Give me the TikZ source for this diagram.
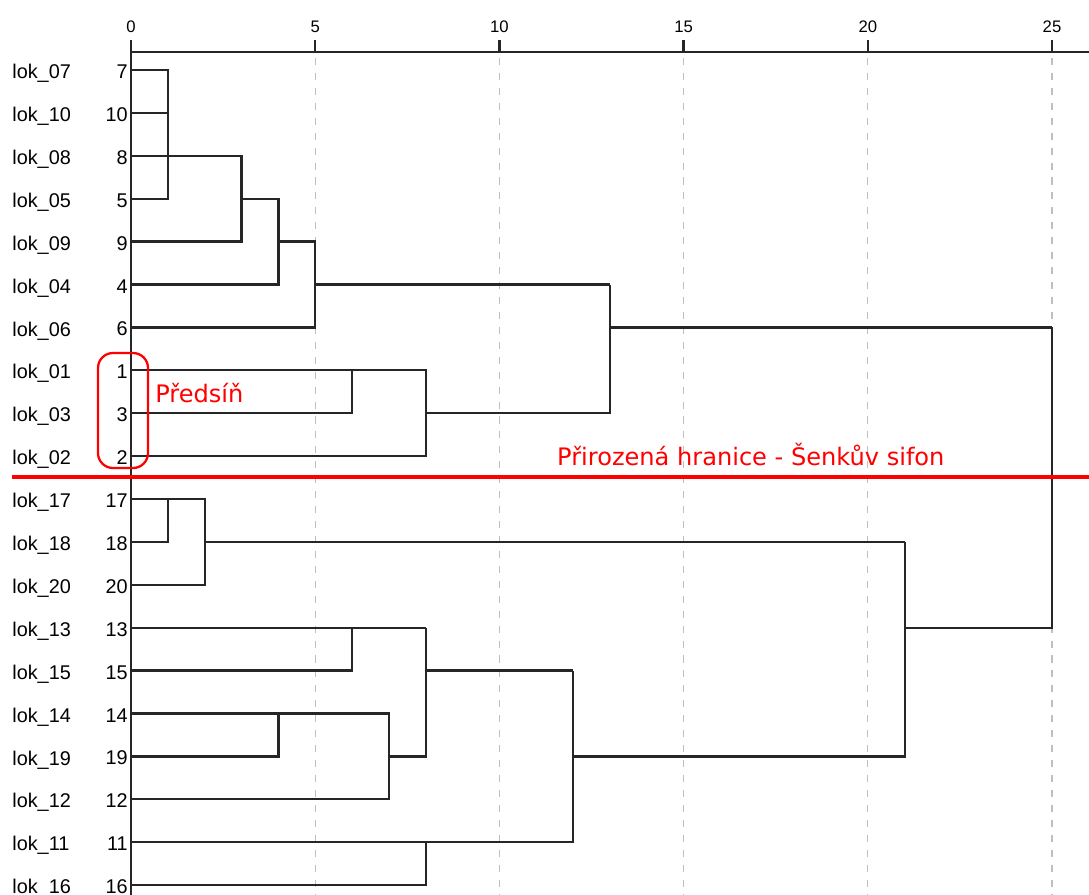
\documentclass[tikz,border=0pt]{standalone}
\usepackage{fontspec}
\setmainfont{Liberation Sans}
\newfontfamily\notefont{DejaVu Sans}
\usetikzlibrary{positioning}

\begin{document}
\begin{tikzpicture}[
        x=0.7368cm, y=-0.858cm,
        every node/.style={font=\fontsize{11.3}{13}\selectfont, inner sep=0pt},
        link/.style={line width=1.3pt, draw=black!85},
        axisline/.style={line width=1.4pt, draw=black!85},
        gridline/.style={line width=0.7pt, draw=black!25, dash pattern=on 4pt off 4.5pt},
        leaflab/.style={anchor=west},
        leafnum/.style={anchor=east},
        ticklab/.style={font=\fontsize{9.5}{11}\selectfont},
        note/.style={text=red, font=\notefont\fontsize{13.7}{16}\selectfont},
        groupbox/.style={draw=red, line width=1.3pt, rounded corners=0.3cm, minimum width=1.0cm, minimum height=2.3cm},
        border/.style={draw=red, line width=2.4pt}
    ]
    \useasboundingbox (-3.556,-1.632) rectangle (26.004,19.23);
    \foreach \t in {5,10,...,25}
        \draw[gridline] (\t,-0.28) -- (\t,19.23);
    \draw[axisline] (0,-0.42) -- (26.004,-0.42);
    \foreach \t in {0,5,...,25} {
        \draw[axisline] (\t,-0.42) -- (\t,-0.70);
        \node[ticklab] (tick\t) at (\t,-1.0) {\t};
    }
    \draw[axisline] (0,-0.70) -- (0,19.23);
    \foreach \lab/\num [count=\r from 0] in {07/7,10/10,08/8,05/5,09/9,04/4,06/6,01/1,03/3,02/2,17/17,18/18,20/20,13/13,15/15,14/14,19/19,12/12,11/11,16/16} {
        \node[leaflab] (lok\lab) at (-3.23,\r+0.08) {lok\_\lab};
        \node[leafnum] (num\num) at (-0.08,\r+0.04) {\num};
    }
    \draw[link] (0,0) -| (1,3) -- (0,3)  (0,1) -- (1,1)
                (0,2) -- (3,2) |- (0,4)
                (3,3) -- (4,3) |- (0,5)
                (4,4) -- (5,4) |- (0,6)
                (5,5) -- (13,5);
    \draw[link] (0,7) -- (6,7) |- (0,8)
                (6,7) -- (8,7) |- (0,9)
                (8,8) -- (13,8) -- (13,5)
                (13,6) -- (25,6);
    \draw[link] (0,10) -- (2,10) |- (0,12)  (0,11) -| (1,10)
                (2,11) -- (21,11);
    \draw[link] (0,13) -- (6,13) |- (0,14)
                (6,13) -- (8,13)
                (0,15) -- (7,15) |- (0,17)
                (0,16) -| (4,15)
                (7,16) -- (8,16) -- (8,13)
                (8,14) -- (12,14)
                (0,18) -- (12,18) -- (12,14)
                (0,19) -| (8,18)
                (12,16) -- (21,16) -- (21,11)
                (21,13) -- (25,13) -- (25,6);
    \node[groupbox] (predsin) at (-0.217,7.937) {};
    \node[note, anchor=base west] (predsinlab) at (0.651,7.74) {Předsíň};
    \draw[border] (-3.23,9.487) -- (26.004,9.487);
    \node[note, anchor=base west] (sifonlab) at (11.56,9.207) {Přirozená hranice - Šenkův sifon};
\end{tikzpicture}
\end{document}
